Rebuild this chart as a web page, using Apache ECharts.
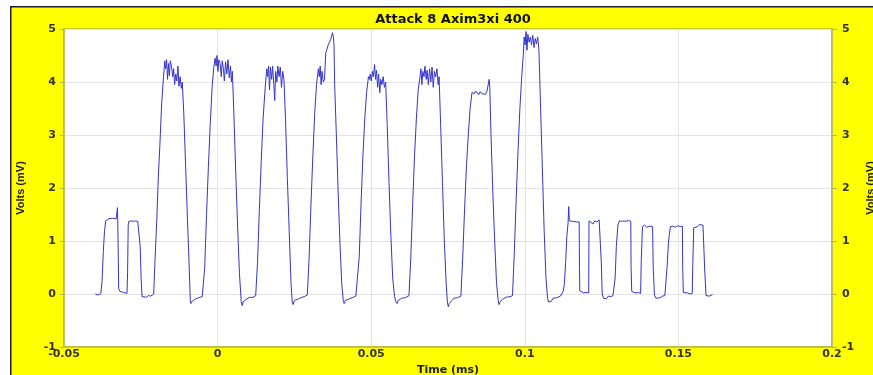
<!DOCTYPE html>
<html>
<head>
<meta charset="utf-8">
<script src="https://cdn.jsdelivr.net/npm/echarts@6/dist/echarts.min.js"></script>
<style>
  html, body { margin: 0; padding: 0; background: #fff; }
  #chart { width: 873px; height: 375px; }
</style>
</head>
<body>
<div id="chart"></div>
<script>
// values, time in ms
const timeMs = [
  -0.0398, -0.0390, -0.0385, -0.0380, -0.0376, -0.0372, -0.0368, -0.0364, -0.0360, -0.0354,
  -0.0348, -0.0342, -0.0336, -0.0330, -0.0327, -0.0326, -0.0325, -0.0323, -0.0322, -0.0318,
  -0.0312, -0.0306, -0.0300, -0.0295, -0.0293, -0.0291, -0.0289, -0.0282, -0.0275, -0.0268,
  -0.0260, -0.0255, -0.0252, -0.0249, -0.0246, -0.0240, -0.0232, -0.0225, -0.0218, -0.0212,
  -0.0208,
  -0.0204, -0.0198, -0.0193, -0.0188, -0.0182, -0.0176, -0.0172, -0.0169, -0.0166, -0.0163,
  -0.0160, -0.0157, -0.0154, -0.0150, -0.0146, -0.0143, -0.0140, -0.0136, -0.0133, -0.0129,
  -0.0126, -0.0122, -0.0118, -0.0115,
  -0.0110, -0.0104, -0.0098, -0.0093, -0.0089, -0.0087, -0.0083, -0.0079, -0.0074, -0.0068,
  -0.0062, -0.0056, -0.0050, -0.0046,
  -0.0042, -0.0036, -0.0030, -0.0024, -0.0018, -0.0012, -0.0008, -0.0005, -0.0002, 0.0001,
  0.0004, 0.0008, 0.0012, 0.0015, 0.0019, 0.0022, 0.0026, 0.0030, 0.0034, 0.0038,
  0.0042, 0.0045, 0.0048,
  0.0053, 0.0059, 0.0065, 0.0071, 0.0077, 0.0080, 0.0083, 0.0088, 0.0093, 0.0099,
  0.0105, 0.0112, 0.0118, 0.0124,
  0.0130, 0.0136, 0.0142, 0.0148, 0.0155, 0.0160, 0.0163, 0.0166, 0.0169, 0.0172,
  0.0176, 0.0179, 0.0183, 0.0186, 0.0189, 0.0193, 0.0196, 0.0200, 0.0204, 0.0208,
  0.0212, 0.0216,
  0.0221, 0.0227, 0.0233, 0.0239, 0.0243, 0.0246, 0.0250, 0.0255, 0.0261, 0.0268,
  0.0275, 0.0282, 0.0288, 0.0292,
  0.0298, 0.0304, 0.0310, 0.0316, 0.0322, 0.0328, 0.0331, 0.0334, 0.0337, 0.0340,
  0.0344, 0.0348, 0.0352, 0.0356, 0.0360, 0.0364, 0.0368, 0.0371, 0.0374, 0.0377,
  0.0379,
  0.0381, 0.0386, 0.0392, 0.0398, 0.0404, 0.0409, 0.0412, 0.0416, 0.0420, 0.0426,
  0.0432, 0.0438, 0.0444, 0.0450, 0.0455,
  0.0461, 0.0467, 0.0473, 0.0479, 0.0485, 0.0491, 0.0494, 0.0497, 0.0500, 0.0504,
  0.0507, 0.0511, 0.0514, 0.0517, 0.0521, 0.0524, 0.0528, 0.0531, 0.0535, 0.0539,
  0.0543, 0.0547,
  0.0552, 0.0558, 0.0564, 0.0570, 0.0576, 0.0580, 0.0584, 0.0588, 0.0593, 0.0599,
  0.0605, 0.0611, 0.0617, 0.0623,
  0.0629, 0.0635, 0.0641, 0.0647, 0.0653, 0.0659, 0.0662, 0.0665, 0.0668, 0.0672,
  0.0675, 0.0679, 0.0682, 0.0686, 0.0690, 0.0694, 0.0698, 0.0702, 0.0706, 0.0710,
  0.0714, 0.0718, 0.0721,
  0.0726, 0.0732, 0.0738, 0.0744, 0.0748, 0.0751, 0.0754, 0.0758, 0.0763, 0.0769,
  0.0775, 0.0781, 0.0787, 0.0792,
  0.0798, 0.0804, 0.0810, 0.0816, 0.0822, 0.0828, 0.0832, 0.0836, 0.0840, 0.0845,
  0.0850, 0.0855, 0.0860, 0.0866, 0.0872, 0.0877, 0.0881, 0.0884, 0.0886,
  0.0890, 0.0896, 0.0902, 0.0908, 0.0913, 0.0916, 0.0919, 0.0923, 0.0928, 0.0934,
  0.0940, 0.0946, 0.0952, 0.0960,
  0.0966, 0.0972, 0.0978, 0.0984, 0.0990, 0.0995, 0.0998, 0.1001, 0.1004, 0.1007,
  0.1010, 0.1014, 0.1018, 0.1022, 0.1026, 0.1030, 0.1034, 0.1038, 0.1042, 0.1046,
  0.1051, 0.1057, 0.1063, 0.1069, 0.1074, 0.1077, 0.1081, 0.1086, 0.1092, 0.1098,
  0.1104, 0.1110, 0.1116, 0.1121, 0.1125,
  0.1129, 0.1133, 0.1137, 0.1141, 0.1143, 0.1145, 0.1150, 0.1156, 0.1162, 0.1168,
  0.1173, 0.1177, 0.1178, 0.1179, 0.1185, 0.1192, 0.1199, 0.1205, 0.1208,
  0.1209, 0.1215, 0.1222, 0.1228, 0.1235, 0.1242, 0.1247, 0.1249, 0.1252, 0.1256,
  0.1260, 0.1266, 0.1272, 0.1280, 0.1287, 0.1291,
  0.1294, 0.1298, 0.1303, 0.1308, 0.1315, 0.1322, 0.1330, 0.1338, 0.1345, 0.1346,
  0.1348, 0.1355, 0.1362, 0.1370, 0.1377,
  0.1379, 0.1383, 0.1390, 0.1397, 0.1404, 0.1410, 0.1416, 0.1418, 0.1422, 0.1427,
  0.1432, 0.1440, 0.1448, 0.1456, 0.1459,
  0.1463, 0.1468, 0.1474, 0.1482, 0.1490, 0.1498, 0.1506, 0.1513, 0.1514, 0.1516,
  0.1522, 0.1530, 0.1538, 0.1545,
  0.1547, 0.1550, 0.1556, 0.1562, 0.1568, 0.1574, 0.1580, 0.1584, 0.1586, 0.1590,
  0.1595, 0.1601, 0.1607, 0.1611
];

const voltsMv = [
  0.00, -0.02, 0.00, 0.01, 0.25, 0.80, 1.20, 1.38, 1.40, 1.42,
  1.40, 1.43, 1.41, 1.42, 1.45, 1.63, 1.38, 0.60, 0.10, 0.05,
  0.02, 0.03, 0.00, 0.01, 0.40, 1.30, 1.37, 1.38, 1.37, 1.38,
  1.37, 1.36, 0.90, 0.30, -0.05, -0.03, -0.06, -0.03, -0.04, -0.02,
  0.00,
  0.60, 1.40, 2.20, 2.80, 3.60, 4.10, 4.40, 4.25, 4.42, 4.05,
  4.35, 4.12, 4.40, 4.30, 4.10, 4.25, 3.95, 4.15, 4.02, 4.30,
  3.92, 4.10, 3.88, 4.00,
  3.40, 2.40, 1.40, 0.60, -0.10, -0.18, -0.14, -0.16, -0.10, -0.08,
  -0.07, -0.06, -0.05, -0.04,
  0.50, 1.50, 2.40, 3.20, 3.90, 4.30, 4.45, 4.30, 4.50, 4.20,
  4.42, 4.35, 4.10, 4.40, 4.25, 4.02, 4.38, 4.15, 4.42, 4.08,
  4.30, 4.00, 4.20,
  3.40, 2.30, 1.30, 0.40, -0.15, -0.22, -0.15, -0.18, -0.10, -0.08,
  -0.06, -0.07, -0.05, -0.03,
  0.60, 1.60, 2.50, 3.30, 3.90, 4.25, 4.10, 4.30, 3.85, 4.28,
  4.05, 4.30, 3.95, 3.65, 4.20, 4.00, 4.30, 4.10, 4.28, 3.90,
  4.20, 4.05,
  3.30, 2.20, 1.20, 0.20, -0.15, -0.20, -0.12, -0.15, -0.10, -0.08,
  -0.06, -0.05, -0.04, -0.02,
  0.70, 1.70, 2.60, 3.40, 3.95, 4.25, 4.10, 4.30, 3.95, 4.20,
  4.00, 4.05, 4.55, 4.62, 4.70, 4.68, 4.80, 4.78, 4.93, 4.85,
  4.70,
  3.95, 3.10, 2.00, 1.00, 0.20, -0.12, -0.18, -0.12, -0.15, -0.10,
  -0.08, -0.07, -0.06, -0.04, -0.02,
  0.70, 1.70, 2.60, 3.30, 3.80, 4.10, 4.05, 4.15, 4.02, 4.20,
  4.10, 4.33, 4.05, 4.22, 3.90, 4.15, 3.80, 4.05, 3.95, 4.10,
  3.90, 4.00,
  3.20, 2.10, 1.10, 0.30, -0.05, -0.14, -0.18, -0.12, -0.10, -0.08,
  -0.06, -0.07, -0.04, -0.03,
  0.70, 1.70, 2.60, 3.30, 3.85, 4.10, 4.25, 3.95, 4.20, 4.10,
  4.30, 4.05, 4.22, 3.95, 4.25, 4.00, 4.28, 3.90, 4.20, 4.10,
  4.25, 3.95, 4.10,
  3.20, 2.10, 1.00, 0.20, -0.15, -0.24, -0.18, -0.20, -0.12, -0.08,
  -0.06, -0.07, -0.05, -0.04,
  0.70, 1.60, 2.40, 3.00, 3.50, 3.80, 3.82, 3.78, 3.83, 3.80,
  3.76, 3.82, 3.78, 3.80, 3.77, 3.83, 3.80, 4.05, 3.90,
  3.00, 1.90, 1.00, 0.20, -0.10, -0.20, -0.15, -0.18, -0.10, -0.08,
  -0.06, -0.07, -0.05, -0.03,
  0.80, 1.80, 2.70, 3.50, 4.10, 4.50, 4.85, 4.70, 4.95, 4.60,
  4.90, 4.75, 4.85, 4.70, 4.88, 4.65, 4.82, 4.72, 4.85, 4.60,
  3.60, 2.40, 1.20, 0.30, -0.08, -0.15, -0.12, -0.14, -0.08, -0.06,
  -0.07, -0.05, -0.04, -0.03, 0.05,
  0.20, 0.60, 1.10, 1.35, 1.65, 1.38, 1.40, 1.37, 1.39, 1.36,
  1.38, 1.36, 0.50, 0.06, 0.04, 0.02, 0.03, 0.01, 0.02,
  1.38, 1.40, 1.32, 1.38, 1.36, 1.40, 1.37, 0.60, 0.00, -0.08,
  -0.05, -0.09, -0.04, -0.05, -0.03, -0.02,
  0.30, 0.90, 1.30, 1.38, 1.37, 1.38, 1.37, 1.39, 1.37, 0.50,
  0.05, 0.03, 0.02, 0.03, 0.01,
  0.60, 1.27, 1.30, 1.26, 1.28, 1.25, 1.27, 0.50, -0.02, -0.08,
  -0.06, -0.07, -0.04, -0.03, 0.00,
  0.50, 1.00, 1.27, 1.28, 1.26, 1.29, 1.27, 1.28, 0.50, 0.03,
  0.01, 0.02, 0.00, 0.01,
  0.60, 1.25, 1.28, 1.27, 1.31, 1.28, 1.30, 1.27, 0.40, -0.03,
  -0.06, -0.04, -0.02, -0.01
];

const xTicks = { min: -0.05, max: 0.2, step: 0.05 };
const yTicks = { min: -1, max: 5, step: 1 };

const trace = timeMs.map((t, i) => [t, voltsMv[i]]);

const chart = echarts.init(document.getElementById('chart'));

const tickFont = {
  color: '#333',
  fontFamily: 'DejaVu Sans',
  fontWeight: 'bold',
  fontSize: 11
};
const nameFont = {
  color: '#222',
  fontFamily: 'Liberation Sans',
  fontWeight: 'bold',
  fontSize: 11
};
const frameColor = '#b8b83a';

const yAxisBase = {
  type: 'value',
  min: yTicks.min,
  max: yTicks.max,
  interval: yTicks.step,
  name: 'Volts (mV)',
  nameLocation: 'middle',
  nameTextStyle: nameFont,
  axisLine: { show: true, onZero: false, lineStyle: { color: frameColor, width: 1.5 } },
  axisTick: { show: true, length: 4, lineStyle: { color: frameColor } },
  splitLine: { show: true, lineStyle: { color: '#e4e4e4', width: 1 } }
};

chart.setOption({
  backgroundColor: '#ffff00',
  animation: false,
  title: {
    text: 'Attack 8 Axim3xi 400',
    left: 448,
    top: 8,
    textAlign: 'center',
    textStyle: {
      color: '#111',
      fontFamily: 'DejaVu Sans',
      fontWeight: 'bold',
      fontSize: 13
    }
  },
  grid: {
    left: 64,
    right: 41,
    top: 29,
    bottom: 28,
    outerBoundsMode: 'none',
    containLabel: false,
    show: true,
    backgroundColor: '#ffffff',
    borderColor: frameColor,
    borderWidth: 1.5
  },
  xAxis: {
    type: 'value',
    min: xTicks.min,
    max: xTicks.max,
    interval: xTicks.step,
    name: 'Time (ms)',
    nameLocation: 'middle',
    nameGap: 14,
    nameTextStyle: Object.assign({}, nameFont, { fontFamily: 'DejaVu Sans', fontSize: 11 }),
    axisLine: { show: true, onZero: false, lineStyle: { color: frameColor, width: 1.5 } },
    axisTick: { show: false },
    axisLabel: Object.assign({
      margin: 2,
      formatter: v => String(+v.toFixed(2))
    }, tickFont),
    splitLine: { show: true, lineStyle: { color: '#e4e4e4', width: 1 } }
  },
  yAxis: [
    Object.assign({}, yAxisBase, {
      position: 'left',
      nameGap: 38,
      axisLabel: Object.assign({ margin: 8 }, tickFont)
    }),
    Object.assign({}, yAxisBase, {
      position: 'right',
      nameGap: 27,
      nameRotate: 90,
      axisTick: { show: true, length: 5, lineStyle: { color: frameColor } },
      axisLabel: Object.assign({ margin: 10 }, tickFont),
      splitLine: { show: false }
    })
  ],
  graphic: [
    { type: 'rect', shape: { x: 0, y: 0, width: 10, height: 375 }, style: { fill: '#fff' }, silent: true },
    { type: 'rect', shape: { x: 0, y: 0, width: 873, height: 6 }, style: { fill: '#fff' }, silent: true },
    { type: 'rect', shape: { x: 10, y: 6, width: 1.5, height: 369 }, style: { fill: '#1c1c3c' }, silent: true },
    { type: 'rect', shape: { x: 10, y: 6, width: 863, height: 1.5 }, style: { fill: '#1c1c3c' }, silent: true }
  ],
  series: [
    {
      type: 'line',
      data: trace,
      yAxisIndex: 0,
      showSymbol: false,
      lineStyle: { color: '#3535cc', width: 1 }
    }
  ]
});
</script>
</body>
</html>
